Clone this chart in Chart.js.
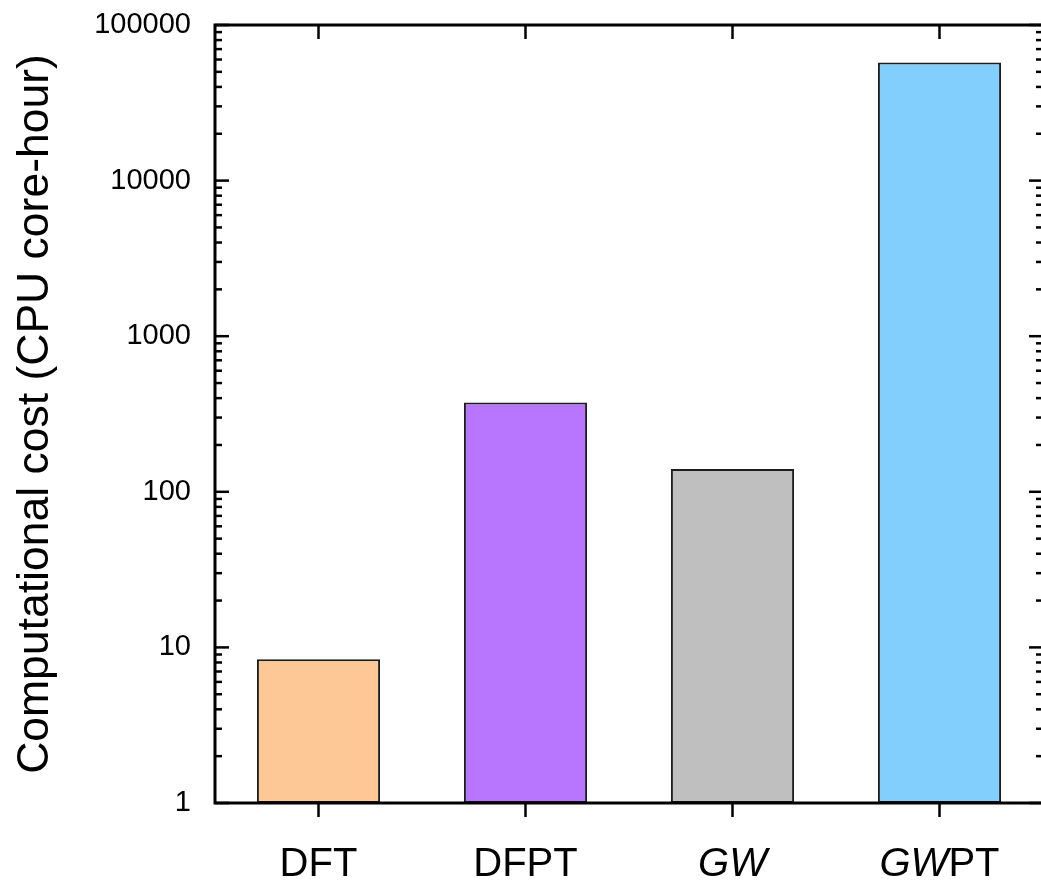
<!DOCTYPE html>
<html>
<head>
<meta charset="utf-8">
<title>Computational cost</title>
<script src="https://cdn.jsdelivr.net/npm/chart.js@4/dist/chart.umd.min.js"></script>
<style>
  html, body { margin: 0; padding: 0; background: #fff; overflow: hidden; }
  #clip { width: 1041px; height: 880px; overflow: hidden; }
  #wrap { position: relative; width: 1046px; height: 880px; }
</style>
</head>
<body>
<div id="clip"><div id="wrap"><canvas id="cost"></canvas></div></div>
<script>
// Methods compared and their cost in CPU core-hours
const categories = ['DFT', 'DFPT', 'GW', 'GWPT'];
const italicPrefix = ['', '', 'GW', 'GW'];      // leading part of each label set in italics
const coreHours = [8.4, 375, 140, 57500];
const barColors = ['#FEC796', '#B875FE', '#BFBFBF', '#82CFFE'];

// Decade ticks on the logarithmic axis
const yTicks = [1, 10, 100, 1000, 10000, 100000];
const yTickLabels = ['1', '10', '100', '1000', '10000', '100000'];

const FONT = "'Liberation Sans', Arial, sans-serif";

// Closed frame, inward ticks (minor ticks on the log axes) and mixed-style category labels
const frameAndTicks = {
  id: 'frameAndTicks',
  afterDatasetsDraw(chart) {
    const { ctx, chartArea: a, scales: { x, y } } = chart;
    const seg = (x1, y1, x2, y2) => { ctx.beginPath(); ctx.moveTo(x1, y1); ctx.lineTo(x2, y2); ctx.stroke(); };
    ctx.save();
    ctx.strokeStyle = '#000';
    ctx.lineCap = 'butt';
    ctx.lineWidth = 2.5;
    yTicks.forEach((v, d) => {
      const py = y.getPixelForValue(v);
      seg(a.left, py, a.left + 14, py);
      seg(a.right, py, a.right - 14, py);
      if (d < yTicks.length - 1) {
        for (let m = 2; m <= 9; m++) {
          const pm = y.getPixelForValue(v * m);
          seg(a.left, pm, a.left + 7, pm);
          seg(a.right, pm, a.right - 7, pm);
        }
      }
    });
    categories.forEach((c, i) => {
      const px = x.getPixelForValue(i);
      seg(px, a.top, px, a.top + 14);
      seg(px, a.bottom, px, a.bottom + 14);
    });
    ctx.lineWidth = 3;
    ctx.strokeRect(a.left, a.top, a.right - a.left, a.bottom - a.top);

    // category labels: italic prefix followed by upright remainder
    ctx.fillStyle = '#000';
    ctx.textBaseline = 'alphabetic';
    ctx.textAlign = 'left';
    const italicFont = 'italic 40px ' + FONT;
    const uprightFont = '40px ' + FONT;
    categories.forEach((c, i) => {
      const pre = italicPrefix[i];
      const rest = c.slice(pre.length);
      ctx.font = italicFont;
      const w1 = pre ? ctx.measureText(pre).width : 0;
      ctx.font = uprightFont;
      const w2 = rest ? ctx.measureText(rest).width : 0;
      let sx = x.getPixelForValue(i) - (w1 + w2) / 2;
      const by = a.bottom + 73;
      if (pre) { ctx.font = italicFont; ctx.fillText(pre, sx, by); sx += w1; }
      if (rest) { ctx.font = uprightFont; ctx.fillText(rest, sx, by); }
    });
    ctx.restore();
  }
};

new Chart(document.getElementById('cost'), {
  type: 'bar',
  data: {
    labels: categories,
    datasets: [{
      data: coreHours,
      backgroundColor: barColors,
      borderColor: '#1c1c1c',
      borderWidth: 2,
      borderSkipped: false,
      categoryPercentage: 1.0,
      barPercentage: 0.595
    }]
  },
  options: {
    responsive: true,
    maintainAspectRatio: false,
    animation: false,
    devicePixelRatio: 1,
    layout: { padding: { top: 25, right: 3, left: 0, bottom: 0 } },
    plugins: { legend: { display: false }, tooltip: { enabled: false } },
    scales: {
      x: {
        type: 'category',
        grid: { display: false, drawTicks: false },
        border: { display: false },
        ticks: { display: false },
        afterFit(scale) { scale.height = 77; scale.paddingLeft = 0; scale.paddingRight = 0; }
      },
      y: {
        type: 'logarithmic',
        min: 1,
        max: 100000,
        grid: { display: false, drawTicks: false },
        border: { display: false },
        afterBuildTicks(scale) { scale.ticks = yTicks.map(v => ({ value: v })); },
        ticks: {
          padding: 24,
          color: '#000',
          font: { family: FONT, size: 29 },
          callback(value) {
            const k = yTicks.indexOf(value);
            return k >= 0 ? yTickLabels[k] : '';
          }
        },
        title: {
          display: true,
          text: 'Computational cost (CPU core-hour)',
          color: '#000',
          font: { family: FONT, size: 44.5 },
          padding: { top: 9, bottom: 0 }
        },
        afterFit(scale) {
          scale.width = 215;
          // labels at the ends may overhang; the frame keeps its fixed position
          scale.paddingTop = 0;
          scale.paddingBottom = 0;
        }
      }
    }
  },
  plugins: [frameAndTicks]
});
</script>
</body>
</html>
